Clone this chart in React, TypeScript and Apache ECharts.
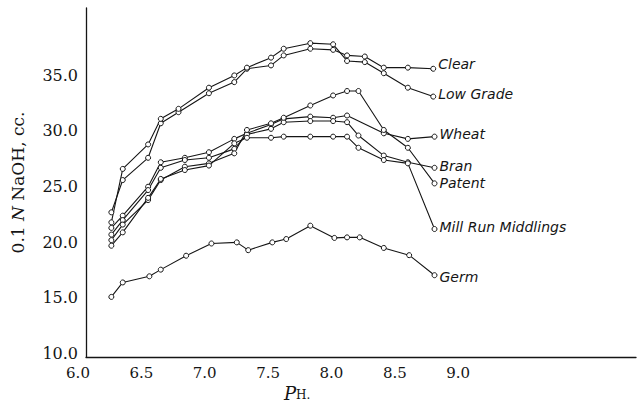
import React, { useEffect, useRef } from "react";
import * as echarts from "echarts";

// pH values (x) for each curve
const phUpper = [6.20, 6.29, 6.49, 6.59, 6.73, 6.97, 7.17, 7.27, 7.46, 7.56, 7.77, 7.95, 8.06, 8.20, 8.35, 8.54, 8.74];
const phMid = [6.20, 6.29, 6.49, 6.59, 6.78, 6.97, 7.17, 7.27, 7.46, 7.56, 7.77, 7.95, 8.06, 8.15, 8.35, 8.54, 8.75];
const phWheat = [6.20, 6.29, 6.49, 6.59, 6.78, 6.97, 7.17, 7.27, 7.46, 7.56, 7.77, 7.95, 8.06, 8.35, 8.54, 8.75];
const phGerm = [6.20, 6.29, 6.50, 6.59, 6.79, 6.99, 7.19, 7.28, 7.47, 7.58, 7.77, 7.96, 8.06, 8.16, 8.35, 8.55, 8.75];

// 0.1 N NaOH, cc.
const clear = [23.0, 25.9, 27.9, 31.0, 32.0, 33.7, 34.7, 35.9, 36.2, 37.1, 37.7, 37.6, 37.1, 37.0, 36.0, 36.0, 35.9];
const lowGrade = [22.1, 26.9, 29.1, 31.4, 32.3, 34.2, 35.3, 36.0, 36.9, 37.7, 38.2, 38.1, 36.6, 36.5, 35.5, 34.2, 33.4];
const wheat = [21.6, 22.7, 25.3, 27.5, 27.9, 28.4, 29.6, 30.1, 30.9, 31.4, 31.6, 31.5, 31.7, 30.1, 29.6, 29.8];
const bran = [21.0, 22.3, 25.0, 27.0, 27.7, 27.9, 28.7, 30.0, 30.5, 31.1, 31.2, 31.2, 31.1, 29.9, 28.1, 27.5, 27.0];
const patent = [20.5, 21.9, 24.1, 25.9, 27.1, 27.4, 28.3, 30.4, 31.0, 31.5, 32.6, 33.5, 33.9, 33.9, 30.4, 28.8, 25.6];
const millRun = [20.0, 21.2, 24.3, 26.0, 26.8, 27.2, 29.2, 29.7, 29.7, 29.8, 29.8, 29.8, 29.8, 28.8, 27.7, 27.4, 21.5];
const germ = [15.4, 16.7, 17.25, 17.85, 19.1, 20.2, 20.3, 19.6, 20.3, 20.6, 21.8, 20.7, 20.75, 20.75, 19.8, 19.15, 17.35];

const seriesNames = ["Clear", "Low Grade", "Wheat", "Bran", "Patent", "Mill Run Middlings", "Germ"];
const yTickMax = 35;
const xTickMax = 9.0;

const zip = (xs: number[], ys: number[]) => ys.map((y, i) => [xs[i], y]);

export default function App() {
  const ref = useRef<HTMLDivElement>(null);
  useEffect(() => {
    if (!ref.current) return;
    const chart = echarts.init(ref.current, undefined, { renderer: "svg" });
    const ink = "#151515";
    const sets: [string, number[][], number][] = [
      [seriesNames[0], zip(phUpper, clear), -5],
      [seriesNames[1], zip(phUpper, lowGrade), -3],
      [seriesNames[2], zip(phWheat, wheat), -3],
      [seriesNames[3], zip(phMid, bran), -2],
      [seriesNames[4], zip(phMid, patent), 0],
      [seriesNames[5], zip(phMid, millRun), -2],
      [seriesNames[6], zip(phGerm, germ), 2],
    ];
    chart.setOption({
      animation: false,
      backgroundColor: "#fff",
      grid: { left: 86, right: 0, top: 8, bottom: 412 - 357, containLabel: false },
      xAxis: {
        type: "value",
        min: 6.0,
        max: 10.34,
        interval: 0.5,
        axisLine: { show: true, lineStyle: { color: ink, width: 1.3 } },
        axisTick: { show: false },
        splitLine: { show: false },
        axisLabel: {
          color: ink,
          fontFamily: "DejaVu Serif",
          fontSize: 15,
          margin: 8,
          padding: [0, 16, 0, 0],
          formatter: (v: number) => (v <= xTickMax + 1e-9 ? v.toFixed(1) : ""),
        },
      },
      yAxis: {
        type: "value",
        min: 10,
        max: 41.36,
        interval: 5,
        name: "0.1 {i|N} NaOH, cc.",
        nameLocation: "middle",
        nameRotate: 90,
        nameGap: 60,
        nameTextStyle: {
          color: ink,
          fontFamily: "DejaVu Serif",
          fontSize: 17,
          rich: { i: { fontStyle: "italic", fontFamily: "DejaVu Serif", fontSize: 17, color: ink } },
        },
        axisLine: { show: true, lineStyle: { color: ink, width: 1.3 } },
        axisTick: { show: false },
        splitLine: { show: false },
        axisLabel: {
          color: ink,
          fontFamily: "DejaVu Serif",
          fontSize: 16,
          margin: 8,
          verticalAlign: "bottom",
          lineHeight: 7,
          formatter: (v: number) => (v <= yTickMax + 1e-9 ? v.toFixed(1) : ""),
        },
      },
      graphic: [
        {
          type: "text",
          left: 284,
          top: 384,
          style: {
            text: "{p|P}{h|H.}",
            rich: {
              p: { fontFamily: "DejaVu Serif", fontStyle: "italic", fontSize: 18, fill: ink },
              h: { fontFamily: "DejaVu Serif", fontSize: 12, fill: ink, padding: [4, 0, 0, 0] },
            },
          },
        },
      ],
      series: sets.map(([name, data, dy]) => ({
        name,
        type: "line",
        data,
        silent: true,
        symbol: "circle",
        symbolSize: 5,
        showAllSymbol: true,
        itemStyle: { color: "#fff", borderColor: ink, borderWidth: 1 },
        lineStyle: { color: ink, width: 1.1 },
        emphasis: { disabled: true },
        endLabel: {
          show: true,
          formatter: "{a}",
          color: ink,
          fontStyle: "italic",
          fontFamily: "DejaVu Sans",
          fontSize: 14,
          distance: 5,
          offset: [0, dy],
        },
      })),
    });
    return () => chart.dispose();
  }, []);
  return <div ref={ref} style={{ width: 639, height: 412, position: "absolute", left: 0, top: 0 }} />;
}
